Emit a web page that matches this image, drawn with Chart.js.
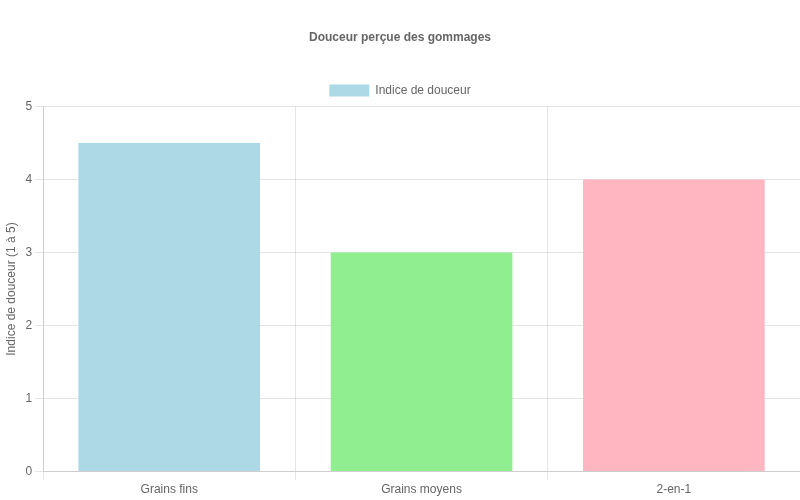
<!DOCTYPE html>
<html><head><meta charset="utf-8">
<script src="https://cdn.jsdelivr.net/npm/chart.js@4"></script>
<style>html,body{margin:0;padding:0;background:#fff}#w{width:800px;height:500px}</style>
</head><body><div id="w"><canvas id="c"></canvas></div>
<script>
const categories = ["Grains fins", "Grains moyens", "2-en-1"];
const values = [4.5, 3, 4];
const colors = ["#ADD8E6", "#90EE90", "#FFB6C1"];
Chart.defaults.font.family = "'Liberation Sans', Arial, sans-serif";
Chart.defaults.color = "#666";
new Chart(document.getElementById('c'), {
  type: 'bar',
  data: { labels: categories, datasets: [{ label: 'Indice de douceur', data: values, backgroundColor: colors }] },
  options: {
    responsive: true, maintainAspectRatio: false, animation: false,
    plugins: {
      title: { display: true, text: 'Douceur perçue des gommages', font: { size: 12, weight: 'bold' }, padding: { top: 30, bottom: 30 } },
      legend: { display: true }
    },
    scales: {
      y: { min: 0, max: 5, ticks: { stepSize: 1 }, title: { display: true, text: 'Indice de douceur (1 à 5)' } },
      x: {}
    }
  }
});
</script></body></html>
